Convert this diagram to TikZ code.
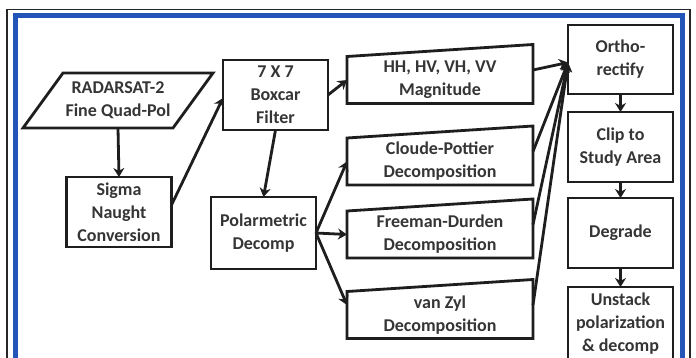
\documentclass[tikz,border=0pt]{standalone}
\usepackage{fontspec}
\setmainfont{Carlito}
\usetikzlibrary{arrows.meta,calc}
\definecolor{frameblue}{RGB}{35,85,185}
\definecolor{ink}{RGB}{30,30,30}
\begin{document}
\begin{tikzpicture}[x=1pt,y=-1pt,
  txt/.style={align=center, inner sep=0pt, outer sep=0pt, font=\fontsize{18}{23}\selectfont\bfseries, text=ink!90},
  pbox/.style={txt, draw=ink, line width=2.8pt, minimum width=105pt},
  mi/.style={txt, minimum width=186pt, minimum height=47pt},
  arr/.style={draw=ink, line width=2.8pt, -{Stealth[length=9pt,width=11pt]}},
  shapeline/.style={draw=ink, line width=2.8pt, line join=miter}]
\useasboundingbox (0,0) rectangle (696,358);
\clip (0,0) rectangle (696,358);
\fill[white] (0,0) rectangle (696,358);
\draw[line width=1.5pt, black!85] (7,9.5) rectangle (690,400);
\draw[line width=5pt, frameblue] (15.5,15.5) rectangle (682.5,400);

\node[txt, minimum width=190pt, minimum height=55pt] (rad) at (118,100.5) {RADARSAT-2\\Fine Quad-Pol};
\draw[shapeline] ($(rad.north west)+(40,0)$) -- (rad.north east) -- ($(rad.south east)+(-40,0)$) -- (rad.south west) -- cycle;

\node[pbox, minimum height=70pt] (sig) at (119,212) {Sigma\\Naught\\Conversion};
\node[pbox, minimum height=70pt] (box) at (275.5,95) {7 X 7\\Boxcar\\Filter};
\node[pbox, minimum height=72pt] (pd) at (263.5,233) {Polarmetric\\Decomp};

\node[mi] (hh) at (440,80) {HH, HV, VH, VV\\Magnitude};
\node[mi] (cp) at (440,161.5) {Cloude-Pottier\\Decomposition};
\node[mi] (fd) at (440,234.5) {Freeman-Durden\\Decomposition};
\node[mi] (vz) at (440,315) {van Zyl\\Decomposition};
\foreach \n in {hh,cp,fd,vz}
  \draw[shapeline] (\n.south west) -- (\n.south east) -- ($(\n.north east)+(0,-12)$) -- (\n.north west) -- cycle;

\node[pbox, minimum height=69pt] (ortho) at (620.5,59.5) {Ortho-\\rectify};
\node[pbox, minimum height=70pt] (clip) at (620.5,147) {Clip to\\Study Area};
\node[pbox, minimum height=70pt] (deg) at (620.5,233) {Degrade};
\node[pbox, minimum height=74pt] (uns) at (620.5,324) {Unstack\\polarization\\\& decomp};

\draw[arr] (rad.south) -- (sig.north);
\draw[arr] ($(sig.east)+(0,-7)$) -- ($(box.west)+(0,3)$);
\draw[arr] (box.south) -- (pd.north);
\draw[arr] (box.east) -- (hh.west);
\draw[arr] (pd.east) -- (cp.west);
\draw[arr] (pd.east) -- (fd.west);
\draw[arr] (pd.east) -- ($(vz.west)+(0,-10)$);
\coordinate (conv) at ($(ortho.west)+(0,3)$);
\foreach \n in {hh,cp,fd,vz}
  \draw[arr] ($(\n.east)+(0,-10)$) -- (conv);
\draw[arr] (ortho.south) -- (clip.north);
\draw[arr] (clip.south) -- (deg.north);
\draw[arr] (deg.south) -- (uns.north);
\end{tikzpicture}
\end{document}
